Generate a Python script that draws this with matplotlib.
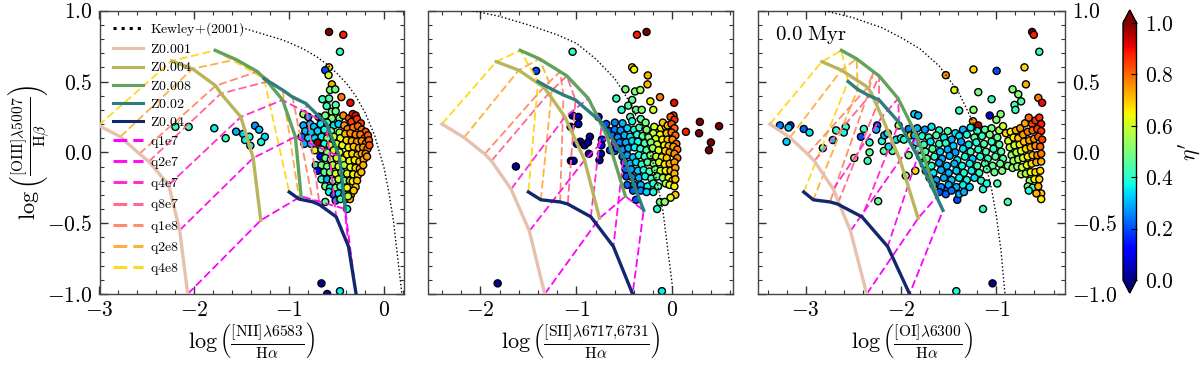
import numpy as np
import matplotlib
matplotlib.use('Agg')
import matplotlib.pyplot as plt
from matplotlib.lines import Line2D
from matplotlib.ticker import MultipleLocator, FixedLocator

plt.rcParams['mathtext.fontset'] = 'cm'
plt.rcParams['font.family'] = ['serif']
plt.rcParams['font.serif'] = ['cmr10', 'DejaVu Serif']
plt.rcParams['axes.unicode_minus'] = False
plt.rcParams['axes.formatter.use_mathtext'] = True

z_labels = ['Z0.001', 'Z0.004', 'Z0.008', 'Z0.02', 'Z0.04']
q_labels = ['q1e7', 'q2e7', 'q4e7', 'q8e7', 'q1e8', 'q2e8', 'q4e8']
z_colors = ['#e5c1ae', '#b9b55c', '#62a25c', '#2b7f7c', '#12276f']
q_colors = ['#ff00ff', '#ff10ee', '#ff30cc', '#ff6a90', '#ff8c6c', '#ffb040', '#ffd820']

# grids: rows are Z, columns run q4e8 ... q1e7
nii_grid_x = [[-3.01, -2.78, -2.58, -2.48, -2.27, -2.155, -2.07],
              [-2.24, -2.02, -1.775, -1.72, -1.51, -1.38, -1.30],
              [-1.78, -1.56, -1.335, -1.23, -1.07, -.935, -.875],
              [-1.265, -1.07, -.965, -.825, -.61, -.47, -.41],
              [-1.0, -.895, -.75, -.68, -.505, -.375, -.295]]
nii_grid_y = [[.19, .11, -.01, -.065, -.23, -.55, -1.0],
              [.645, .59, .47, .415, .25, -.04, -.48],
              [.72, .655, .57, .5, .37, .11, -.31],
              [.52, .44, .39, .345, .205, -.03, -.40],
              [-.28, -.33, -.35, -.37, -.455, -.665, -1.0]]
sii_grid_x = [[-2.4, -2.17, -1.955, -1.885, -1.68, -1.49, -1.33],
              [-1.835, -1.6, -1.34, -1.29, -1.12, -.915, -.76],
              [-1.585, -1.385, -1.17, -1.1, -.875, -.68, -.49],
              [-1.4, -1.255, -1.135, -1.01, -.735, -.51, -.30],
              [-1.5, -1.37, -1.17, -1.09, -.85, -.615, -.415]]
sii_grid_y = [[.2, .105, -.012, -.06, -.26, -.555, -1.0],
              [.64, .58, .46, .415, .25, -.055, -.465],
              [.72, .66, .57, .54, .38, .11, -.31],
              [.5, .445, .405, .37, .21, -.03, -.41],
              [-.28, -.335, -.35, -.365, -.455, -.665, -1.0]]
oi_grid_x = [[-3.375, -3.165, -2.98, -2.91, -2.71, -2.53, -2.36],
             [-2.83, -2.625, -2.35, -2.31, -2.2, -2.01, -1.82],
             [-2.625, -2.465, -2.29, -2.23, -2.03, -1.83, -1.62],
             [-2.555, -2.455, -2.35, -2.23, -2.02, -1.825, -1.56],
             [-3.02, -2.92, -2.745, -2.665, -2.41, -2.14, -1.91]]
oi_grid_y = sii_grid_y

kewley_nii_x = [-1.5, -1.3, -1.1, -1.0, -.85, -.7, -.6, -.5, -.4, -.3, -.2, -.1, 0, .05, .1, .15, .2]
kewley_nii_y = [.88, .84, .80, .775, .73, .67, .62, .56, .49, .40, .28, .12, -.11, -.28, -.49, -.78, -1.07]
kewley_sii_x = [-2.08, -1.8, -1.5, -1.2, -1.0, -.8, -.6, -.45, -.3, -.2, -.1, 0]
kewley_sii_y = [1.0, .96, .90, .83, .77, .66, .52, .36, .14, -.08, -.41, -.95]
kewley_oi_x = [-2.8, -2.5, -2.2, -2.0, -1.8, -1.6, -1.4, -1.25, -1.15, -1.05, -1.0, -.95, -.91]
kewley_oi_y = [1.0, .95, .88, .81, .73, .61, .43, .22, .03, -.26, -.45, -.70, -1.0]

nii_pts = [
 (-.58,.85,1.0),(-.43,.83,.88),(-.465,.71,.42),(-.58,.60,.68),(-.62,.58,.2),(-.585,.545,.6),(-.55,.48,.72),
 (-.57,.44,.5),(-.515,.445,.48),(-.45,.39,.78),(-.355,.35,.9),(-.65,.375,.42),(-.58,.38,.45),(-.605,.327,.42),
 (-.51,.335,.45),(-.55,.287,.52),(-.51,.29,.48),
 (-2.2,.18,.42),(-2.06,.18,.42),(-1.79,.17,.36),(-1.67,.10,.42),(-1.56,.146,.3),(-1.486,.13,.33),(-1.42,.11,.4),
 (-1.465,.087,.36),(-1.41,.047,.37),(-1.36,.188,.27),(-1.317,.16,.32),(-1.257,.11,.34),(-1.296,.073,.38),
 (-.66,-.925,.02),(-.465,-.98,.36),(-.6,-1.0,.05),
 (-.85,.27,.55),(-.8,.25,.25),(-.69,.25,.08),(-.62,.26,.5),(-.55,.24,.52),(-.47,.24,.48),
 (-.85,.19,.3),(-.78,.2,.3),(-.74,.18,.32),(-.67,.2,.36),(-.6,.21,.42),(-.53,.19,.35),(-.48,.2,.33),
 (-.83,.15,.31),(-.77,.14,.32),(-.7,.15,.33),(-.63,.16,.38),(-.56,.15,.5),(-.47,.14,.55),
 (-.87,.11,.22),(-.8,.1,.34),(-.73,.1,.33),(-.66,.11,.36),(-.6,.1,.5),(-.53,.11,.6),(-.46,.1,.62),
 (-.84,.06,.3),(-.77,.06,.33),(-.7,.07,.98),(-.63,.06,.4),(-.57,.05,.58),(-.5,.06,.62),(-.44,.05,.62),
 (-.73,.015,.6),(-.66,.02,.5),(-.6,.0,.52),(-.53,.015,.6),(-.47,.0,.63),
 (-.67,-.03,.12),(-.62,-.04,.48),(-.56,-.05,.55),(-.5,-.04,.6),(-.44,-.05,.63),
 (-.72,-.09,.4),(-.66,-.09,.48),(-.6,-.1,.5),(-.54,-.09,.58),(-.48,-.1,.62),(-.42,-.09,.55),
 (-.7,-.13,.1),(-.63,-.14,.45),(-.57,-.14,.52),(-.51,-.15,.6),(-.45,-.14,.5),(-.39,-.15,.62),
 (-.66,-.19,.42),(-.6,-.19,.3),(-.54,-.2,.5),(-.48,-.19,.58),(-.42,-.2,.48),(-.36,-.2,.68),
 (-.62,-.24,.48),(-.57,-.25,.35),(-.51,-.25,.5),(-.46,-.24,.42),(-.39,-.25,.65),
 (-.58,-.28,.38),(-.53,-.3,.2),(-.48,-.29,.35),(-.42,-.3,.38),(-.35,-.3,.68),
 (-.62,-.35,.48),(-.51,-.34,.25),(-.46,-.33,.44),(-.4,-.33,.55),(-.39,-.4,.4),(-.36,-.33,.7),
 (-.43,.26,.76),(-.37,.24,.82),(-.33,.27,.88),(-.3,.26,.9),(-.345,.215,.84),(-.285,.235,.85),(-.245,.205,.84),
 (-.42,.19,.74),(-.385,.165,.78),(-.325,.175,.78),(-.275,.185,.8),(-.235,.16,.8),(-.195,.145,.82),
 (-.41,.13,.72),(-.355,.135,.76),(-.3,.125,.77),(-.25,.125,.78),(-.205,.1,.8),(-.17,.12,.82),
 (-.395,.085,.68),(-.34,.08,.72),(-.285,.075,.74),(-.235,.08,.76),(-.19,.065,.78),(-.16,.085,.8),
 (-.375,.035,.66),(-.32,.04,.7),(-.265,.03,.72),(-.22,.035,.75),(-.175,.025,.78),(-.155,.05,.82),
 (-.39,-.015,.66),(-.335,-.01,.68),(-.28,-.02,.7),(-.235,-.01,.72),(-.195,-.01,.76),
 (-.365,-.06,.64),(-.31,-.055,.66),(-.26,-.065,.7),(-.215,-.05,.72),(-.18,-.03,.75),
 (-.355,-.105,.62),(-.3,-.11,.68),(-.255,-.115,.7),(-.22,-.09,.72),
 (-.325,-.155,.64),(-.275,-.16,.68),(-.24,-.14,.7),
 (-.33,-.205,.66),(-.285,-.2,.7),(-.3,-.245,.68),(-.32,-.27,.7),(-.38,-.31,.58),
]

sii_pts = [
 (-.37,.83,.88),(-.27,.85,1.0),(-1.04,.71,.42),(-.42,.6,.68),(-.4,.585,.65),(-.257,.543,.72),(-.26,.48,.72),
 (-.49,.445,.5),(-.39,.43,.5),(-.335,.44,.55),(-.585,.38,.42),(-.42,.37,.47),(-.23,.36,.65),(-.13,.39,.78),
 (.017,.35,.9),(-.46,.33,.45),(-.38,.3,.47),(-.32,.3,.5),(-.2,.3,.6),(-.53,.3,.4),(-.44,.25,.44),
 (-1.42,.575,.2),(-1.04,.26,.02),(-.98,.25,.05),(-1.06,.18,.03),(-.98,.2,.05),(-.86,.11,.03),(-.96,.075,.03),
 (-.915,.05,.02),(-.88,.07,.03),(-.995,.06,.03),(-.87,-.01,.03),(-.745,-.01,.05),(-1.057,-.06,.03),
 (-1.03,-.06,.03),(-.76,-.055,.03),(-1.63,-.1,.03),(-1.82,-.925,.02),(-.11,-.98,.36),
 (.285,.215,1.0),(.277,.135,1.0),(.14,.145,.88),(.485,.185,1.0),(.4,.07,1.0),(.38,.015,1.0),
 (-.735,.09,.15),(-.74,.05,.1),(-.65,.015,.18),(-.6,.01,.2),(-.77,.25,.1),
 (-.69,.2,.2),(-.6,.21,.25),(-.52,.205,.3),(-.42,.22,.38),(-.33,.235,.46),(-.28,.21,.5),(-.19,.18,.6),(-.12,.17,.66),(-.07,.18,.7),
 (-.66,.15,.2),(-.6,.16,.25),(-.54,.155,.28),(-.47,.17,.33),(-.4,.16,.38),(-.345,.175,.44),(-.27,.16,.5),(-.2,.135,.58),(-.13,.125,.64),(-.06,.135,.7),
 (-.63,.12,.22),(-.57,.105,.27),(-.5,.12,.3),(-.44,.11,.35),(-.37,.125,.4),(-.31,.115,.46),(-.25,.105,.52),(-.175,.095,.6),(-.105,.09,.65),(-.05,.09,.7),
 (-.6,.065,.2),(-.55,.07,.25),(-.485,.07,.3),(-.42,.08,.34),(-.36,.075,.38),(-.29,.065,.44),(-.225,.07,.52),(-.16,.055,.6),(-.085,.05,.66),(-.04,.045,.72),
 (-.58,.03,.22),(-.52,.02,.27),(-.46,.03,.3),(-.395,.035,.36),(-.335,.025,.4),(-.27,.015,.46),(-.205,.03,.54),(-.145,.015,.62),(-.075,.01,.68),(-.03,.0,.74),
 (-.52,-.03,.22),(-.47,-.02,.28),(-.41,-.035,.32),(-.35,-.02,.38),(-.29,-.03,.43),(-.23,-.02,.5),(-.17,-.03,.58),(-.11,-.035,.65),(-.06,-.04,.7),
 (-.5,-.07,.25),(-.44,-.08,.3),(-.38,-.07,.34),(-.32,-.085,.4),(-.26,-.07,.46),(-.195,-.08,.52),(-.14,-.07,.6),(-.08,-.085,.66),(-.03,-.08,.72),
 (-.49,-.12,.22),(-.43,-.12,.28),(-.36,-.13,.33),(-.3,-.125,.38),(-.24,-.135,.44),(-.18,-.12,.5),(-.125,-.13,.58),(-.07,-.13,.65),(-.02,-.13,.7),
 (-.48,-.17,.2),(-.42,-.175,.26),(-.35,-.18,.3),(-.285,-.17,.36),(-.22,-.185,.42),(-.16,-.17,.48),(-.1,-.18,.55),(-.04,-.18,.65),(-.0,-.2,.7),
 (-.47,-.23,.22),(-.4,-.23,.25),(-.33,-.23,.3),(-.26,-.24,.36),(-.2,-.22,.4),(-.15,-.24,.45),(-.07,-.22,.55),(-.03,-.23,.62),(.02,-.24,.66),
 (-.41,-.27,.22),(-.33,-.27,.26),(-.27,-.28,.33),(-.2,-.28,.38),(.03,-.3,.7),(-.02,-.32,.62),(-.38,-.335,.2),
 (-.13,-.35,.48),(-.08,-.35,.52),(-.16,-.4,.4),
 (-.1,.21,.7),(-.05,.19,.72),(.01,.26,.85),(-.02,.25,.82),(.02,.23,.86),(-.01,.2,.82),(.02,.17,.8),(-.01,.14,.78),
 (.03,.12,.8),(.0,.09,.76),(.04,.06,.8),(.01,.04,.74),(.05,.02,.78),(.02,-.01,.76),(.05,-.04,.78),(.02,-.07,.74),
 (.03,-.11,.74),(.02,-.15,.72),(.03,-.19,.7),
]

oi_pts = [
 (-.625,.85,1.0),(-.607,.83,.88),(-.55,.71,.42),(-.705,.6,.68),(-.69,.48,.72),(-.83,.445,.5),(-.77,.41,.5),
 (-.74,.36,.45),(-.81,.335,.42),(-.8,.3,.42),(-.56,.385,.78),(-.52,.35,.9),(-.997,.575,.2),(-1.24,.585,.68),
 (-1.53,.545,.75),(-1.44,.44,.6),(-1.19,.425,.5),(-1.05,.375,.42),(-1.39,.295,.42),(-1.24,.3,.52),
 (-1.245,.22,.75),(-1.19,.19,.95),(-.955,.27,.5),(-1.07,.26,.08),(-1.86,.27,.33),(-1.82,.26,.3),(-1.0,.23,.52),
 (-3.27,.19,.25),(-3.16,.19,.18),(-3.18,.175,.32),(-3.02,.165,.22),(-2.96,.14,.35),(-3.2,.075,.33),(-2.82,.03,.36),
 (-2.68,.155,.42),(-2.58,.18,.42),(-2.6,.14,.37),(-2.715,.087,.3),(-2.42,.11,.2),(-2.39,.165,.42),(-2.25,.19,.2),
 (-2.26,.16,.3),(-2.49,-.04,.55),(-2.33,.07,.42),(-2.2,.08,.4),(-2.33,.0,.47),(-2.35,-.06,.42),(-2.175,.12,.3),
 (-2.14,.135,.35),(-2.18,.01,.47),(-2.09,.01,.45),(-2.13,.04,.35),(-2.05,.09,.35),(-2.0,.1,.42),(-2.025,.19,.55),
 (-1.92,.165,.25),(-1.9,.12,.68),(-1.97,.09,.4),(-1.92,-.02,.5),(-1.95,-.165,.52),(-1.85,-.13,.68),(-2.24,-.345,.47),
 (-1.42,-.98,.38),(-1.04,-.925,.02),(-1.14,-.4,.42),(-.88,-.35,.45),(-1.14,-.26,.4),(-1.41,-.335,.2),(-1.53,-.27,.22),
 (-1.83,.17,.3),(-1.75,.16,.28),(-1.68,.18,.35),(-1.6,.155,.4),(-1.51,.15,.45),(-1.43,.135,.35),(-1.35,.16,.3),(-1.27,.175,.36),(-1.2,.15,.4),(-1.12,.16,.46),(-1.05,.17,.5),(-.97,.155,.55),(-.93,.185,.6),
 (-1.86,.12,.3),(-1.78,.115,.4),(-1.71,.105,.42),(-1.63,.12,.45),(-1.55,.105,.36),(-1.47,.09,.3),(-1.39,.115,.35),(-1.31,.125,.38),(-1.23,.105,.45),(-1.15,.115,.42),(-1.07,.125,.5),(-.99,.105,.48),
 (-1.84,.07,.38),(-1.76,.055,.42),(-1.69,.075,.35),(-1.6,.06,.42),(-1.53,.065,.4),(-1.45,.045,.33),(-1.37,.075,.28),(-1.29,.055,.35),(-1.21,.07,.4),(-1.13,.06,.45),(-1.05,.075,.42),(-.97,.055,.45),
 (-1.82,.02,.45),(-1.745,.005,.45),(-1.67,.025,.45),(-1.59,.005,.33),(-1.51,.02,.3),(-1.43,.0,.28),(-1.35,.025,.35),(-1.27,.005,.42),(-1.19,.02,.4),(-1.11,.005,.45),(-1.03,.025,.42),(-.95,.005,.45),
 (-1.8,-.03,.48),(-1.73,-.045,.46),(-1.65,-.03,.42),(-1.57,-.045,.3),(-1.49,-.025,.3),(-1.41,-.055,.36),(-1.33,-.03,.38),(-1.25,-.045,.32),(-1.17,-.03,.4),(-1.09,-.045,.42),(-1.01,-.03,.46),(-.93,-.045,.46),
 (-1.76,-.085,.45),(-1.68,-.095,.4),(-1.6,-.075,.28),(-1.52,-.095,.32),(-1.44,-.08,.3),(-1.36,-.095,.38),(-1.28,-.08,.36),(-1.2,-.095,.45),(-1.12,-.08,.45),(-1.04,-.095,.46),(-.96,-.08,.48),(-.88,-.095,.5),
 (-1.74,-.13,.28),(-1.66,-.145,.35),(-1.58,-.125,.3),(-1.5,-.145,.3),(-1.42,-.13,.33),(-1.34,-.145,.38),(-1.26,-.13,.36),(-1.18,-.145,.42),(-1.1,-.12,.45),(-1.02,-.14,.48),(-.94,-.13,.5),
 (-1.7,-.18,.22),(-1.63,-.195,.28),(-1.55,-.18,.3),(-1.47,-.195,.32),(-1.39,-.18,.36),(-1.31,-.195,.38),(-1.23,-.18,.35),(-1.16,-.2,.4),
 (-1.66,-.23,.25),(-1.58,-.245,.26),(-1.5,-.23,.3),(-1.42,-.245,.3),(-1.35,-.23,.36),(-1.28,-.245,.33),(-1.1,-.22,.38),(-.99,-.22,.44),
 (-1.6,-.28,.2),(-1.53,-.295,.22),(-1.47,-.27,.24),(-1.39,-.295,.3),(-1.34,-.28,.3),
 (-.9,.135,.68),(-.85,.145,.66),(-.795,.155,.72),(-.75,.17,.75),(-.7,.205,.74),(-.66,.245,.8),(-.625,.2,.84),(-.59,.225,.86),(-.55,.245,.86),(-.53,.2,.88),
 (-.875,.08,.62),(-.82,.105,.66),(-.77,.1,.7),(-.72,.125,.74),(-.67,.145,.78),(-.62,.155,.8),(-.57,.165,.84),(-.53,.15,.86),
 (-.86,.035,.58),(-.81,.05,.6),(-.755,.055,.66),(-.71,.075,.7),(-.655,.085,.74),(-.605,.095,.76),(-.56,.11,.82),(-.52,.09,.84),
 (-.84,-.02,.52),(-.79,.0,.56),(-.74,.01,.62),(-.69,.025,.68),(-.64,.035,.72),(-.59,.045,.76),(-.54,.04,.8),
 (-.82,-.06,.54),(-.77,-.05,.56),(-.72,-.04,.6),(-.67,-.03,.66),(-.62,-.02,.7),(-.57,-.02,.76),(-.53,-.01,.78),
 (-.83,-.11,.52),(-.78,-.1,.54),(-.73,-.105,.6),(-.68,-.09,.62),(-.63,-.08,.68),(-.58,-.07,.72),(-.53,-.065,.72),
 (-.74,-.155,.56),(-.69,-.15,.56),(-.64,-.14,.64),(-.59,-.14,.68),(-.54,-.13,.68),(-.65,-.2,.52),(-.6,-.19,.66),(-.55,-.19,.68),
 (-.67,-.24,.5),(-.62,-.25,.42),(-.56,-.24,.72),(-.53,-.29,.7),(-.58,-.29,.72),(-.53,-.33,.66),(-.66,-.27,.4),
]

xlims = [(-3, .21), (-2.54, .63), (-3.5, -.28)]
xlabels = [r'$\log\left(\frac{[\mathrm{NII}]\lambda6583}{\mathrm{H}\alpha}\right)$',
           r'$\log\left(\frac{[\mathrm{SII}]\lambda6717{,}6731}{\mathrm{H}\alpha}\right)$',
           r'$\log\left(\frac{[\mathrm{OI}]\lambda6300}{\mathrm{H}\alpha}\right)$']
ylabel = r'$\log\left(\frac{[\mathrm{OIII}]\lambda5007}{\mathrm{H}\beta}\right)$'
xticks = [[-3, -2, -1, 0], [-2, -1, 0], [-3, -2, -1]]
yticks = [-1.0, -.5, 0.0, .5, 1.0]
cbar_ticks = [0.0, .2, .4, .6, .8, 1.0]

W, H = 1200.0, 370.0
fig = plt.figure(figsize=(12, 3.7), dpi=100)
boxes = [(99.5, 404), (428.5, 733), (758, 1065)]
top, bottom = 10.7, 294
axes = [fig.add_axes([l / W, 1 - bottom / H, (r - l) / W, (bottom - top) / H]) for l, r in boxes]

panels = [(nii_grid_x, nii_grid_y, kewley_nii_x, kewley_nii_y, nii_pts),
          (sii_grid_x, sii_grid_y, kewley_sii_x, kewley_sii_y, sii_pts),
          (oi_grid_x, oi_grid_y, kewley_oi_x, kewley_oi_y, oi_pts)]

sc = None
for i, (ax, (gx, gy, kx, ky, pts)) in enumerate(zip(axes, panels)):
    gx = np.array(gx)
    gy = np.array(gy)
    p = np.array(pts)
    sc = ax.scatter(p[:, 0], p[:, 1], c=p[:, 2], cmap='jet', vmin=0, vmax=1, s=26,
                    edgecolors='k', linewidths=1.0, zorder=2)
    ax.plot(kx, ky, color='k', ls=':', lw=1.0, zorder=3)
    for j in range(7):
        ax.plot(gx[:, j], gy[:, j], color=q_colors[6 - j], ls='--', lw=1.3, dashes=(4.5, 2), zorder=3)
    for k in range(5):
        ax.plot(gx[k], gy[k], color=z_colors[k], lw=2.4, zorder=4)
    ax.set_xlim(*xlims[i])
    ax.set_ylim(-1, 1)
    ax.xaxis.set_major_locator(FixedLocator(xticks[i]))
    ax.xaxis.set_minor_locator(MultipleLocator(.2))
    ax.yaxis.set_major_locator(FixedLocator(yticks))
    ax.yaxis.set_minor_locator(MultipleLocator(.1))
    ax.tick_params(which='major', direction='in', top=True, right=True, length=6, width=1.0,
                   color='#333333', labelsize=15.5, pad=5)
    ax.tick_params(which='minor', direction='in', top=True, right=True, length=3, width=.8, color='#333333')
    ax.set_xticklabels(['$%d$' % t if t >= 0 else '$-%d$' % abs(t) for t in xticks[i]])
    ax.set_xlabel(xlabels[i], fontsize=16, va='top')
    ax.xaxis.set_label_coords(.5, -.093)
    for s in ax.spines.values():
        s.set_linewidth(1.0)
        s.set_color('#444444')
    if i == 0:
        ax.set_yticklabels(['$%.1f$' % t for t in yticks])
        ax.set_ylabel(ylabel, fontsize=16)
        ax.yaxis.set_label_coords(-.156, .5)
    elif i == 1:
        ax.set_yticklabels([])
    else:
        ax.yaxis.tick_right()
        ax.tick_params(which='both', left=True, right=True)
        ax.set_yticklabels(['$%.1f$' % t for t in yticks])

axes[2].text(.055, .915, r'$0.0\ \mathrm{Myr}$', transform=axes[2].transAxes, fontsize=15, va='center', ha='left')

handles = [Line2D([], [], color='k', ls=':', lw=2.2)]
labels = [r'$\mathrm{Kewley{+}(2001)}$']
for c, l in zip(z_colors, z_labels):
    handles.append(Line2D([], [], color=c, lw=2.2))
    labels.append(r'$\mathrm{%s}$' % l)
for c, l in zip(q_colors, q_labels):
    handles.append(Line2D([], [], color=c, ls='--', lw=2.2, dashes=(4.5, 2)))
    labels.append(r'$\mathrm{%s}$' % l)
leg = axes[0].legend(handles, labels, loc='upper left', bbox_to_anchor=(.03, .983), frameon=False,
                     fontsize=10, handlelength=2.16, handletextpad=.5, labelspacing=.37,
                     borderpad=.35, borderaxespad=0)

cax = fig.add_axes([1123 / W, 1 - 293 / H, 13.5 / W, 283 / H])
cb = fig.colorbar(sc, cax=cax, extend='both', extendfrac=.05, ticks=cbar_ticks)
cb.ax.set_yticklabels(['$%.1f$' % t for t in cbar_ticks])
cb.ax.tick_params(labelsize=15.5, direction='in', length=4, width=.8, pad=6, right=True)
cb.outline.set_linewidth(1.0)
cb.set_label(r"$\eta'$", fontsize=15.5)
cb.ax.yaxis.set_label_coords(3.9, .5)

fig.savefig('out.png', dpi=100)
